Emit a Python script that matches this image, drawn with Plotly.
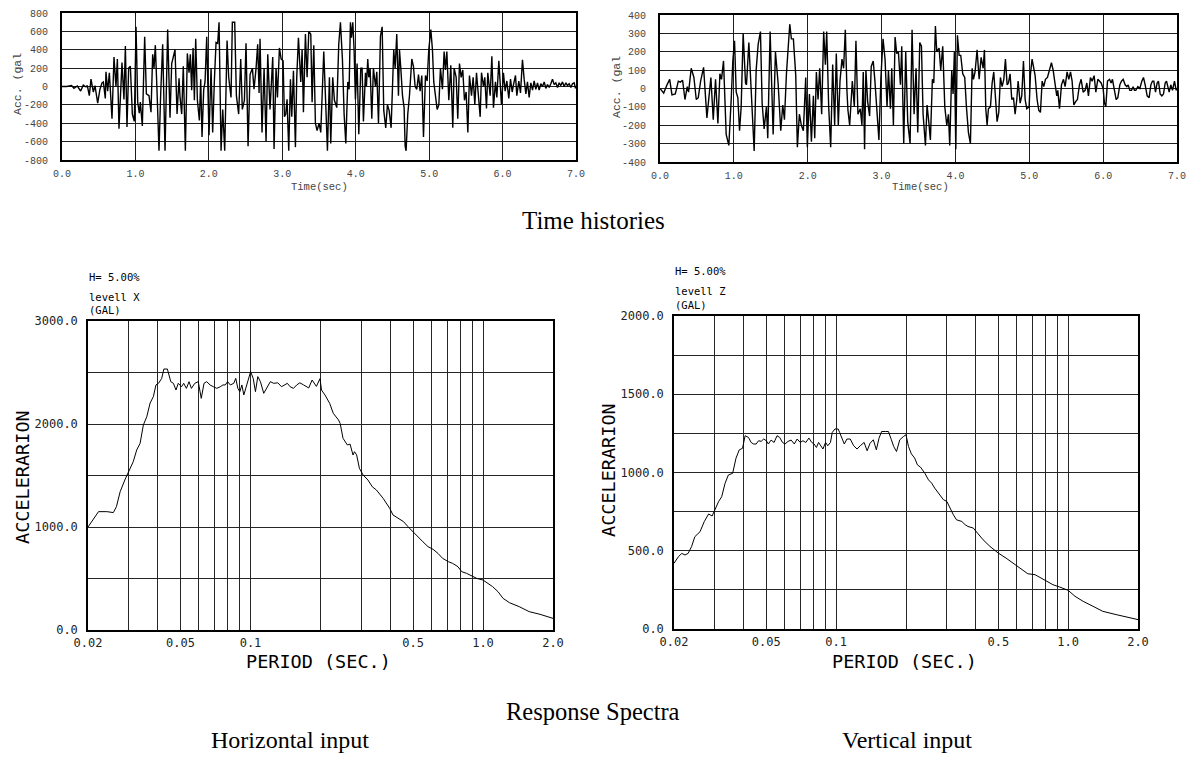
import plotly.graph_objects as go

# ---------------- time histories (acceleration, gal) ----------------
time_x = [0.000, 0.063, 0.131, 0.163, 0.209, 0.254, 0.290, 0.327, 0.345, 0.372, 0.395, 0.427, 0.449, 0.486, 0.517,
          0.545, 0.563, 0.590, 0.599, 0.622, 0.645, 0.681, 0.708, 0.735, 0.754, 0.776, 0.817, 0.844, 0.863, 0.885,
          0.908, 0.931, 0.958, 0.985, 1.008, 1.031, 1.053, 1.067, 1.094, 1.126, 1.149, 1.185, 1.212, 1.235, 1.253,
          1.271, 1.294, 1.321, 1.344, 1.371, 1.403, 1.439, 1.471, 1.494, 1.539, 1.567, 1.594, 1.607, 1.630, 1.652,
          1.680, 1.707, 1.730, 1.748, 1.766, 1.785, 1.803, 1.821, 1.844, 1.871, 1.889, 1.907, 1.930, 1.948, 1.971,
          2.002, 2.030, 2.052, 2.075, 2.098, 2.120, 2.139, 2.166, 2.189, 2.216, 2.248, 2.270, 2.302, 2.320, 2.352,
          2.375, 2.406, 2.434, 2.456, 2.484, 2.506, 2.534, 2.561, 2.593, 2.615, 2.643, 2.665, 2.684, 2.697, 2.724,
          2.752, 2.779, 2.802, 2.833, 2.870, 2.888, 2.915, 2.934, 2.961, 2.984, 3.011, 3.029, 3.047, 3.065, 3.088,
          3.111, 3.129, 3.152, 3.179, 3.197, 3.220, 3.252, 3.270, 3.288, 3.315, 3.338, 3.361, 3.388, 3.406, 3.429,
          3.451, 3.474, 3.501, 3.524, 3.565, 3.592, 3.615, 3.642, 3.660, 3.687, 3.710, 3.742, 3.769, 3.792, 3.819,
          3.842, 3.865, 3.892, 3.910, 3.928, 3.942, 3.960, 3.978, 3.996, 4.019, 4.042, 4.069, 4.087, 4.105, 4.133,
          4.146, 4.164, 4.178, 4.196, 4.219, 4.241, 4.269, 4.287, 4.310, 4.337, 4.360, 4.382, 4.409, 4.432, 4.455,
          4.482, 4.518, 4.537, 4.559, 4.582, 4.596, 4.614, 4.637, 4.659, 4.673, 4.686, 4.709, 4.732, 4.764, 4.786,
          4.809, 4.832, 4.855, 4.877, 4.900, 4.923, 4.950, 4.973, 4.995, 5.023, 5.045, 5.063, 5.086, 5.109, 5.132,
          5.154, 5.181, 5.204, 5.222, 5.241, 5.268, 5.295, 5.322, 5.340, 5.368, 5.390, 5.413, 5.436, 5.458, 5.481,
          5.504, 5.527, 5.549, 5.577, 5.599, 5.622, 5.645, 5.672, 5.695, 5.713, 5.740, 5.758, 5.781, 5.799, 5.831,
          5.854, 5.876, 5.903, 5.922, 5.949, 5.967, 5.985, 6.012, 6.035, 6.058, 6.085, 6.108, 6.131, 6.149, 6.176,
          6.194, 6.221, 6.244, 6.271, 6.294, 6.317, 6.339, 6.362, 6.385, 6.408, 6.430, 6.453, 6.476, 6.498, 6.521,
          6.544, 6.567, 6.589, 6.612, 6.635, 6.657, 6.680, 6.703, 6.725, 6.748, 6.771, 6.793, 6.816, 6.839, 6.862,
          6.884, 6.907, 6.930, 6.952, 6.975, 6.993, 7.000]
acc_x = [0, 0, 10, -20, 5, -50, 15, -5, 10, -100, 80, -60, 10, -180, -30,
         40, 50, -130, 160, -50, 150, -350, 320, 0, 300, -460, 260, -140, 440, -440,
         200, 220, -300, -380, 650, -170, -290, -170, -430, 540, -80, -100, -280, 350, 200,
         450, -50, -700, -80, 460, -700, 620, -340, 250, 400, -300, 90, -110, -300, 220,
         -700, 360, 150, 350, -40, 420, -150, 520, -150, -370, 80, -550, -30, 50, 540,
         -530, 200, -500, 60, 480, 470, 700, -700, -250, -700, 500, 100, -120, 700, 700,
         -100, -300, 300, -250, -150, 470, -650, 130, 200, -30, 200, 460, -70, 520, -500,
         200, -600, 350, -250, 320, -680, 200, -120, 420, 300, 280, -330, -300, -140, -700,
         80, -330, 170, -660, 100, 530, 50, 400, -280, 570, 100, 600, 570, -170, 450,
         -400, -480, -400, -500, 380, -200, -700, 100, -620, 100, -150, -230, 460, 700, 300,
         -300, -620, 50, -30, 700, 530, 700, 400, -140, 250, -520, 200, 200, -380, 150,
         0, 300, 100, 200, -350, 200, 0, 160, -400, 550, 650, -260, -450, -200, -260,
         -450, 400, 200, 570, -100, 400, 200, -100, -230, -650, -700, -300, -100, 300, 220,
         0, -30, 130, -50, 120, -550, 120, 60, 400, 620, 400, 50, -100, -250, -200,
         200, -30, 380, 180, 380, -150, 230, -450, 200, 100, -350, 250, 100, 180, -150,
         -60, -500, 120, -100, 100, -200, 150, -150, -330, 150, 0, 100, -240, 150, -100,
         330, -230, 50, -120, 280, 0, -200, 150, -50, 60, -130, 80, -60, 20, 120,
         -100, 60, -70, 290, 80, -80, 50, -120, 40, -40, 60, -30, 40, -40, 30,
         0, 50, -20, 20, -10, 30, 80, 20, 40, -10, 40, 10, 50, 0, 40,
         10, 30, -10, 30, 40, -20, 0]

time_z = [0.000, 0.050, 0.095, 0.131, 0.162, 0.207, 0.248, 0.275, 0.306, 0.338, 0.369, 0.387, 0.423, 0.459, 0.491,
          0.518, 0.550, 0.590, 0.635, 0.689, 0.721, 0.752, 0.784, 0.811, 0.833, 0.860, 0.896, 0.932, 0.964, 0.986,
          1.009, 1.032, 1.054, 1.077, 1.099, 1.126, 1.158, 1.171, 1.203, 1.239, 1.275, 1.302, 1.329, 1.360, 1.383,
          1.410, 1.441, 1.459, 1.491, 1.532, 1.563, 1.599, 1.635, 1.662, 1.685, 1.712, 1.739, 1.757, 1.779, 1.806,
          1.838, 1.860, 1.887, 1.914, 1.941, 1.973, 1.995, 2.023, 2.050, 2.077, 2.095, 2.117, 2.140, 2.162, 2.189,
          2.216, 2.239, 2.257, 2.284, 2.311, 2.338, 2.365, 2.387, 2.414, 2.437, 2.464, 2.486, 2.509, 2.532, 2.545,
          2.568, 2.604, 2.631, 2.653, 2.680, 2.712, 2.734, 2.752, 2.770, 2.788, 2.811, 2.838, 2.860, 2.887, 2.910,
          2.937, 2.964, 2.991, 3.020, 3.047, 3.074, 3.093, 3.120, 3.138, 3.160, 3.183, 3.205, 3.228, 3.255, 3.273,
          3.300, 3.327, 3.354, 3.386, 3.413, 3.440, 3.467, 3.490, 3.517, 3.540, 3.562, 3.594, 3.616, 3.639, 3.661,
          3.688, 3.707, 3.729, 3.747, 3.779, 3.801, 3.828, 3.856, 3.883, 3.905, 3.923, 3.950, 3.968, 3.986, 4.005,
          4.027, 4.050, 4.072, 4.099, 4.126, 4.149, 4.176, 4.203, 4.226, 4.244, 4.266, 4.293, 4.321, 4.348, 4.375,
          4.393, 4.411, 4.429, 4.447, 4.474, 4.497, 4.519, 4.542, 4.564, 4.587, 4.609, 4.632, 4.655, 4.677, 4.700,
          4.718, 4.740, 4.763, 4.786, 4.808, 4.831, 4.849, 4.876, 4.898, 4.921, 4.944, 4.966, 4.998, 5.016, 5.038,
          5.056, 5.079, 5.106, 5.129, 5.151, 5.174, 5.196, 5.219, 5.246, 5.273, 5.300, 5.323, 5.350, 5.372, 5.386,
          5.409, 5.436, 5.463, 5.485, 5.512, 5.535, 5.558, 5.580, 5.603, 5.630, 5.652, 5.679, 5.702, 5.729, 5.756,
          5.779, 5.801, 5.828, 5.851, 5.878, 5.901, 5.928, 5.950, 5.973, 6.000, 6.018, 6.036, 6.059, 6.086, 6.108,
          6.126, 6.153, 6.176, 6.199, 6.226, 6.248, 6.271, 6.298, 6.321, 6.339, 6.361, 6.384, 6.406, 6.424, 6.442,
          6.470, 6.497, 6.524, 6.546, 6.569, 6.596, 6.623, 6.646, 6.668, 6.686, 6.709, 6.731, 6.749, 6.772, 6.795,
          6.817, 6.840, 6.858, 6.876, 6.894, 6.916, 6.939, 6.966, 6.989, 7.000]
acc_z = [0, -25, 20, 50, -35, -30, 40, 35, 45, -60, 10, -20, 110, 60, -60,
         -50, 40, 115, -160, 60, -170, 50, -190, 80, 50, 150, -250, -310, -60, 150,
         260, -20, -50, -230, -100, 300, 30, 20, 250, -40, -340, 100, 240, 310, -80,
         -220, -100, -270, 310, -250, 200, 30, -230, -90, -170, 80, 280, 350, 270, 270,
         70, -320, -140, -200, -230, 60, -320, -30, -290, -40, -270, 90, -60, 110, -140,
         310, 130, 310, -100, -320, 130, -200, 190, -200, 40, 160, 110, 320, -20, -120,
         -200, 40, -100, 260, -140, -110, -200, 90, -330, 100, -70, -150, 120, 150, 40,
         -100, -280, 60, 270, 160, -100, 100, -110, 110, -200, 280, 190, 200, 20, 230,
         -300, 200, -180, -300, 320, -140, 110, -240, 250, 230, -140, -310, -90, -180, -280,
         50, 30, 340, 200, 220, 100, 230, -100, -200, -140, -310, 100, -30, 200, -330,
         290, 180, 180, 80, 60, -100, -240, -300, 110, 50, 90, 210, 50, 170, 110,
         210, -110, -200, -110, -100, 30, 90, -80, -180, -130, 60, 10, 50, 160, 20,
         30, 80, -60, -50, -140, -60, 40, -80, -40, 150, -60, -110, -100, 80, 160,
         110, 70, -60, -120, -130, 40, 10, 50, 60, 100, 140, 100, 30, -40, -10,
         -110, 20, 50, 10, 90, 50, 90, 40, -90, -70, -60, 20, 50, -20, -10,
         30, -40, 60, 40, 70, -20, 50, 40, 30, 0, -80, -100, 40, 50, 30,
         50, -10, -60, -50, 20, 40, 50, 20, 10, 20, -10, -10, 10, -10, -10,
         10, 0, 40, 60, 20, -40, -50, 20, 40, 40, -20, 30, 40, -30, -40,
         -30, 30, 40, 10, -20, 20, -10, 40, -10, 0]

th_xticks = [0, 1, 2, 3, 4, 5, 6, 7]
th_xtext = ["0.0", "1.0", "2.0", "3.0", "4.0", "5.0", "6.0", "7.0"]
th_x_yticks = [-800, -600, -400, -200, 0, 200, 400, 600, 800]
th_x_ytext = ["-800", "-600", "-400", "-200", "0", "200", "400", "600", "800"]
th_z_yticks = [-400, -300, -200, -100, 0, 100, 200, 300, 400]
th_z_ytext = ["-400", "-300", "-200", "-100", "0", "100", "200", "300", "400"]

# ---------------- response spectra (h = 5 %) ----------------
period_x = [0.0200, 0.0218, 0.0222, 0.0241, 0.0257, 0.0265, 0.0275, 0.0288, 0.0300, 0.0313, 0.0324, 0.0335,
            0.0346, 0.0358, 0.0370, 0.0382, 0.0392, 0.0402, 0.0415, 0.0424, 0.0439, 0.0454, 0.0466, 0.0478,
            0.0489, 0.0505, 0.0516, 0.0530, 0.0544, 0.0557, 0.0576, 0.0596, 0.0614, 0.0631, 0.0648, 0.0670,
            0.0692, 0.0716, 0.0741, 0.0761, 0.0779, 0.0797, 0.0819, 0.0847, 0.0864, 0.0882, 0.0900, 0.0918,
            0.0936, 0.0968, 0.1001, 0.1027, 0.1050, 0.1075, 0.1103, 0.1140, 0.1178, 0.1217, 0.1258, 0.1310,
            0.1360, 0.1400, 0.1440, 0.1480, 0.1530, 0.1580, 0.1630, 0.1690, 0.1780, 0.1840, 0.1920, 0.1990,
            0.2020, 0.209, 0.219, 0.227, 0.239, 0.243, 0.250, 0.261, 0.268, 0.276, 0.280, 0.286, 0.294, 0.305,
            0.320, 0.334, 0.348, 0.372, 0.384, 0.397, 0.410, 0.424, 0.455, 0.476, 0.499, 0.524, 0.551, 0.580,
            0.610, 0.640, 0.670, 0.710, 0.740, 0.780, 0.810, 0.850, 0.890, 0.940, 1.000, 1.050, 1.100, 1.160,
            1.220, 1.300, 1.430, 1.580, 1.760, 2.000]
sa_x = [1000, 1117, 1149, 1149, 1140, 1197, 1343, 1456, 1537, 1634, 1748, 1812,
        1990, 2071, 2204, 2265, 2379, 2395, 2443, 2534, 2534, 2411, 2395, 2330,
        2395, 2362, 2395, 2346, 2411, 2346, 2395, 2411, 2249, 2395, 2411, 2379,
        2362, 2346, 2362, 2379, 2379, 2411, 2379, 2395, 2443, 2346, 2314, 2379,
        2282, 2395, 2508, 2443, 2314, 2460, 2411, 2298, 2362, 2411, 2395, 2400,
        2362, 2379, 2395, 2362, 2346, 2379, 2400, 2380, 2350, 2427, 2365, 2440,
        2330, 2282, 2201, 2104, 2039, 2006, 1861, 1796, 1805, 1699, 1731, 1700, 1570, 1505,
        1456, 1391, 1359, 1278, 1230, 1181, 1117, 1094, 1052, 1003, 954, 911, 857, 809,
        783, 744, 696, 663, 647, 615, 566, 550, 524, 501, 485, 453, 421, 372,
        307, 265, 227, 178, 152, 113]

period_z = [0.0200, 0.0209, 0.0216, 0.0223, 0.0230, 0.0238, 0.0246, 0.0259, 0.0270, 0.0282, 0.0292, 0.0301,
            0.0311, 0.0321, 0.0332, 0.0343, 0.0358, 0.0370, 0.0382, 0.0395, 0.0401, 0.0405, 0.0419, 0.0430,
            0.0440, 0.0452, 0.0463, 0.0475, 0.0487, 0.0500, 0.0510, 0.0524, 0.0540, 0.0556, 0.0571, 0.0587,
            0.0602, 0.0620, 0.0640, 0.0660, 0.0679, 0.0700, 0.0719, 0.0740, 0.0763, 0.0785, 0.0803, 0.0822,
            0.0840, 0.0855, 0.0877, 0.0900, 0.0920, 0.0945, 0.0962, 0.0988, 0.1020, 0.1035, 0.1058, 0.1084,
            0.1113, 0.1150, 0.1190, 0.1230, 0.1270, 0.1320, 0.1360, 0.1400, 0.1446, 0.1490, 0.1530, 0.1570,
            0.1630, 0.1680, 0.1730, 0.1770, 0.1820, 0.1880, 0.1950, 0.2000, 0.205, 0.211, 0.218, 0.224, 0.231,
            0.241, 0.250, 0.258, 0.266, 0.276, 0.290, 0.300, 0.311, 0.320, 0.330, 0.348, 0.360, 0.370, 0.390,
            0.400, 0.430, 0.460, 0.500, 0.540, 0.590, 0.630, 0.670, 0.720, 0.760, 0.810, 0.860, 0.920, 1.000,
            1.070, 1.160, 1.280, 1.410, 1.610, 1.800, 2.000]
sa_z = [420, 462, 483, 473, 483, 526, 590, 622, 686, 735, 722, 771,
        813, 845, 931, 984, 995, 1091, 1144, 1155, 1208, 1235, 1224, 1192,
        1182, 1182, 1203, 1199, 1214, 1203, 1182, 1207, 1192, 1235, 1224, 1192,
        1182, 1199, 1207, 1182, 1214, 1192, 1203, 1192, 1220, 1192, 1182, 1160,
        1192, 1171, 1150, 1192, 1171, 1192, 1256, 1278, 1278, 1256, 1214, 1182,
        1214, 1214, 1171, 1150, 1171, 1192, 1139, 1187, 1209, 1145, 1219, 1262,
        1262, 1262, 1209, 1166, 1134, 1209, 1230, 1241, 1166, 1119, 1092, 1049, 1034,
        996, 953, 932, 900, 868, 826, 815, 762, 730, 698, 687, 666, 655, 645,
        624, 570, 528, 485, 453, 411, 379, 353, 347, 326, 304, 283, 268, 247,
        209, 177, 145, 113, 92, 77, 60]

sp_xticks = [0.02, 0.03, 0.04, 0.05, 0.06, 0.07, 0.08, 0.09, 0.1, 0.2, 0.3, 0.4, 0.5, 0.6, 0.7, 0.8, 0.9, 1.0, 2.0]
sp_xtext = ["0.02", "", "", "0.05", "", "", "", "", "0.1", "", "", "", "0.5", "", "", "", "", "1.0", "2.0"]
sp_x_yticks = [0, 500, 1000, 1500, 2000, 2500, 3000]
sp_x_ytext = ["0.0", "", "1000.0", "", "2000.0", "", "3000.0"]
sp_z_yticks = [0, 250, 500, 750, 1000, 1250, 1500, 1750, 2000]
sp_z_ytext = ["0.0", "", "500.0", "", "1000.0", "", "1500.0", "", "2000.0"]

W, H = 1187, 760


def dom_x(a, b):
    return [a / W, b / W]


def dom_y(top, bottom):
    return [1 - bottom / H, 1 - top / H]


MONO = "Liberation Mono, Courier New, monospace"
PLOTTER = "DejaVu Sans Mono, monospace"
SERIF = "Liberation Serif, Times New Roman, serif"

fig = go.Figure()
fig.add_trace(go.Scatter(x=time_x, y=acc_x, mode="lines", line=dict(color="black", width=1.4),
                         xaxis="x", yaxis="y", showlegend=False))
fig.add_trace(go.Scatter(x=time_z, y=acc_z, mode="lines", line=dict(color="black", width=1.4),
                         xaxis="x2", yaxis="y2", showlegend=False))
fig.add_trace(go.Scatter(x=period_x, y=sa_x, mode="lines", line=dict(color="black", width=1),
                         xaxis="x3", yaxis="y3", showlegend=False))
fig.add_trace(go.Scatter(x=period_z, y=sa_z, mode="lines", line=dict(color="black", width=1),
                         xaxis="x4", yaxis="y4", showlegend=False))

th_axis = dict(showline=True, linecolor="black", linewidth=1.8, mirror=True,
               showgrid=True, gridcolor="#1e1e1e", gridwidth=1, zeroline=False,
               ticks="outside", tickcolor="rgba(0,0,0,0)", automargin=False,
               tickfont=dict(family=MONO, size=10, color="#444"))
sp_axis = dict(showline=True, linecolor="black", linewidth=1.5, mirror=True,
               showgrid=True, gridcolor="#262626", gridwidth=1, zeroline=False,
               ticks="outside", tickcolor="rgba(0,0,0,0)", automargin=False,
               tickfont=dict(family=PLOTTER, size=12, color="#222"))

fig.update_layout(
    width=W, height=H, margin=dict(l=0, r=0, t=0, b=0),
    paper_bgcolor="white", plot_bgcolor="white", showlegend=False,
    xaxis=dict(th_axis, domain=dom_x(62, 576), anchor="y", range=[0, 7],
               tickvals=th_xticks, ticktext=th_xtext, ticklen=3),
    yaxis=dict(th_axis, domain=dom_y(13, 160), anchor="x", range=[-800, 800],
               tickvals=th_x_yticks, ticktext=th_x_ytext, ticklen=10),
    xaxis2=dict(th_axis, domain=dom_x(660, 1177), anchor="y2", range=[0, 7],
                tickvals=th_xticks, ticktext=th_xtext, ticklen=3),
    yaxis2=dict(th_axis, domain=dom_y(15, 162), anchor="x2", range=[-400, 400],
                tickvals=th_z_yticks, ticktext=th_z_ytext, ticklen=10),
    xaxis3=dict(sp_axis, domain=dom_x(88, 553), anchor="y3", type="log",
                range=[-1.69897, 0.30103], tickvals=sp_xticks, ticktext=sp_xtext, ticklen=1),
    yaxis3=dict(sp_axis, domain=dom_y(321, 630), anchor="x3", range=[0, 3000],
                tickvals=sp_x_yticks, ticktext=sp_x_ytext, ticklen=6),
    xaxis4=dict(sp_axis, domain=dom_x(674, 1138), anchor="y4", type="log",
                range=[-1.69897, 0.30103], tickvals=sp_xticks, ticktext=sp_xtext, ticklen=1),
    yaxis4=dict(sp_axis, domain=dom_y(316, 629), anchor="x4", range=[0, 2000],
                tickvals=sp_z_yticks, ticktext=sp_z_ytext, ticklen=6),
)


def px_note(text, x, y, size, family, xanchor="center", angle=0, color="black"):
    fig.add_annotation(text=text, x=x / W, y=1 - y / H, xref="paper", yref="paper",
                       xanchor=xanchor, yanchor="middle", showarrow=False, textangle=angle,
                       font=dict(family=family, size=size, color=color))


# time-history axis titles
px_note("Acc. (gal", 17, 84, 11.5, MONO, angle=-90, color="#444")
px_note("Acc. (gal", 617, 87, 11.5, MONO, angle=-90, color="#444")
px_note("Time(sec)", 319, 187, 10.5, MONO, color="#444")
px_note("Time(sec)", 920, 187, 10.5, MONO, color="#444")

# spectrum headers and axis titles
px_note("H= 5.00%", 87, 277, 10.5, PLOTTER, xanchor="left")
px_note("levell X", 87, 297, 10.5, PLOTTER, xanchor="left")
px_note("(GAL)", 87, 310, 10.5, PLOTTER, xanchor="left")
px_note("H= 5.00%", 673, 271, 10.5, PLOTTER, xanchor="left")
px_note("levell Z", 673, 291, 10.5, PLOTTER, xanchor="left")
px_note("(GAL)", 673, 305, 10.5, PLOTTER, xanchor="left")
px_note("ACCELERARION", 22, 477, 18.5, PLOTTER, angle=-90)
px_note("ACCELERARION", 608, 470, 18.5, PLOTTER, angle=-90)
px_note("PERIOD (SEC.)", 318, 661, 18.5, PLOTTER)
px_note("PERIOD (SEC.)", 904, 661, 18.5, PLOTTER)

# captions
px_note("Time histories", 594, 221, 25, SERIF)
px_note("Response Spectra", 593, 711, 24.5, SERIF)
px_note("Horizontal input", 290, 740, 24, SERIF)
px_note("Vertical input", 907, 740, 24, SERIF)

fig.write_html("out.html")
